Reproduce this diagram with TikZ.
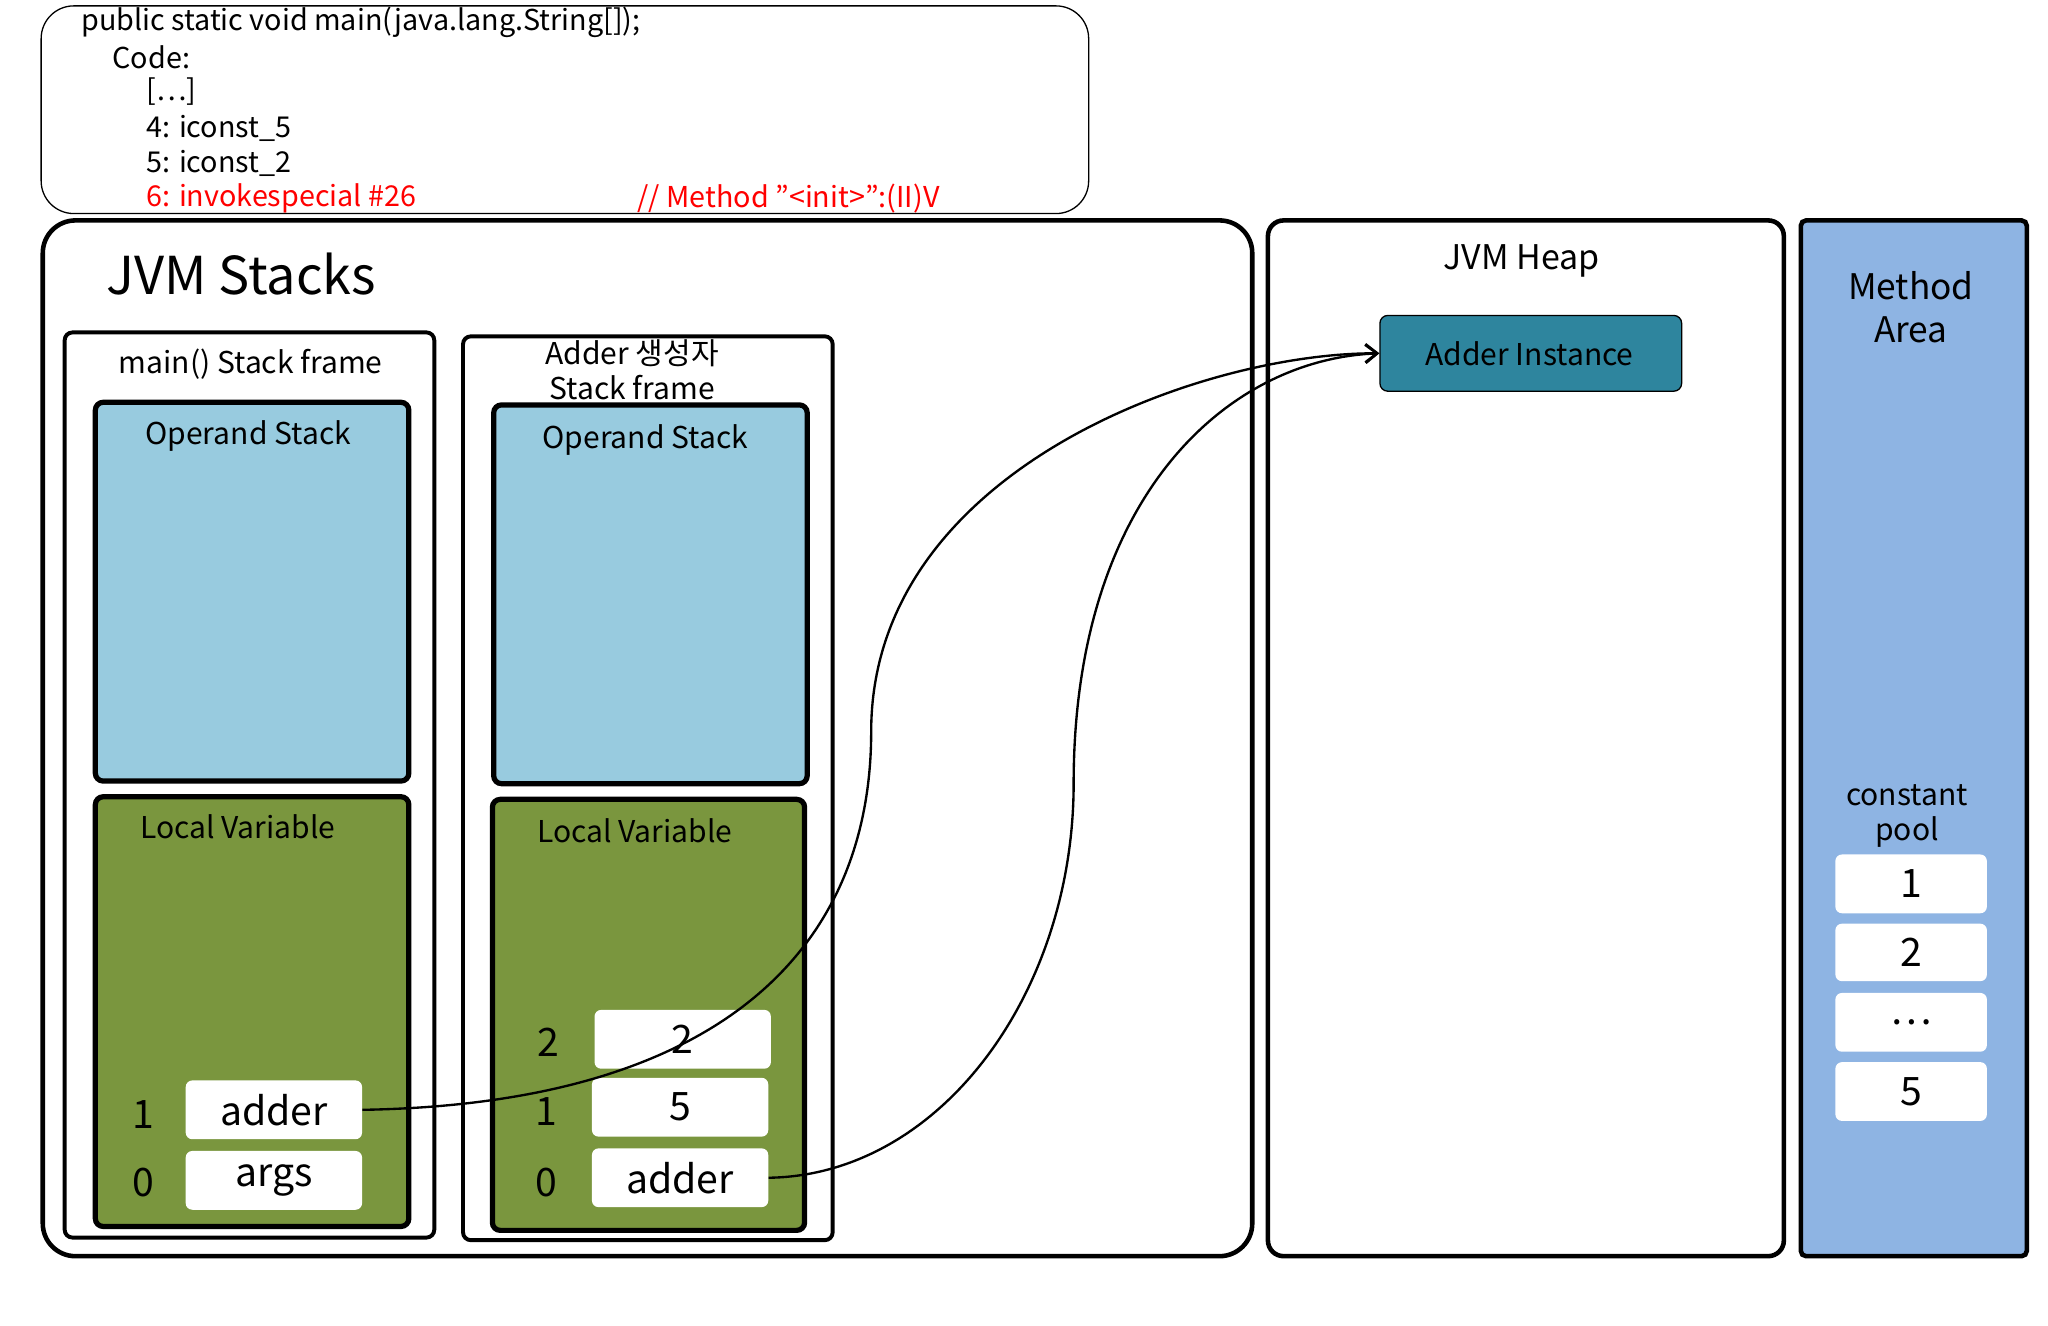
\documentclass[tikz,border=0pt]{standalone}
\usepackage{fontspec}
\setmainfont{Noto Sans CJK KR}
\usetikzlibrary{arrows.meta}
\begin{document}
\begin{tikzpicture}[x=1pt,y=-1pt,
  frame/.style={draw,line width=3pt,rounded corners=6pt},
  big/.style={draw,line width=3.5pt,rounded corners=25pt},
  cell/.style={fill=white,rounded corners=5pt},
  lbl/.style={font=\fontsize{23}{27}\selectfont},
  val/.style={font=\fontsize{30}{34}\selectfont},
  conn/.style={line width=1.8pt,-{Straight Barb[length=9pt,width=14pt,line width=2pt]}}]
\useasboundingbox (0,0) rectangle (1568,1015);
% code box
\node[draw,line width=1pt,rounded corners=25pt,minimum width=802pt,minimum height=159pt,anchor=north west] (code) at (31,4) {};
\begin{scope}[every node/.style={anchor=west,font=\fontsize{22}{26}\selectfont,inner sep=0pt}]
\node (c1) at (62,17) {public static void main(java.lang.String[]);};
\node (c2) at (86,44) {Code:};
\node (c3) at (112,70) {[…]};
\node (c4) at (112,98) {4: iconst\_5};
\node (c5) at (112,125) {5: iconst\_2};
\node[red] (c6) at (112,152) {6: invokespecial \#26};
\node[red] (c7) at (488,152) {// Method \char"22<init>\char"22:(II)V};
\end{scope}
% JVM stacks
\node[big,minimum width=926pt,minimum height=793pt,anchor=north west] (stacks) at (31,167) {};
\node[anchor=west,font=\fontsize{40}{44}\selectfont] (st) at (78,210) {JVM Stacks};
% main frame
\node[frame,minimum width=283pt,minimum height=693pt,anchor=north west] (mf) at (48,253) {};
\node[lbl] (mft) at (192,279) {main() Stack frame};
\node[frame,line width=4pt,fill={rgb,255:red,152;green,203;blue,223},minimum width=240pt,minimum height=290pt,anchor=north west] (mos) at (71,306) {};
\node[lbl] (most) at (190,334) {Operand Stack};
\node[frame,line width=4pt,fill={rgb,255:red,122;green,150;blue,62},minimum width=240pt,minimum height=329pt,anchor=north west] (mlv) at (71,608) {};
\node[lbl] (mlvt) at (182,633) {Local Variable};
\node[cell,minimum width=135pt,minimum height=45pt,anchor=north west,val] (madder) at (142,827) {adder};
\node[cell,minimum width=135pt,minimum height=45pt,anchor=north west,val] (margs) at (142,881) {args};
\node[val] (mi1) at (110,853) {1};
\node[val] (mi0) at (110,905) {0};
% adder frame
\node[frame,minimum width=283pt,minimum height=692pt,anchor=north west] (af) at (353,256) {};
\node[lbl,align=center,font=\fontsize{23}{27}\selectfont] (aft) at (484,283) {Adder 생성자\\Stack frame};
\node[frame,line width=4pt,fill={rgb,255:red,152;green,203;blue,223},minimum width=240pt,minimum height=290pt,anchor=north west] (aos) at (376,308) {};
\node[lbl] (aost) at (494,337) {Operand Stack};
\node[frame,line width=4pt,fill={rgb,255:red,122;green,150;blue,62},minimum width=239pt,minimum height=330pt,anchor=north west] (alv) at (375,610) {};
\node[lbl] (alvt) at (486,636) {Local Variable};
\node[cell,minimum width=135pt,minimum height=45pt,anchor=north west,val] (a2) at (455,773) {2};
\node[cell,minimum width=135pt,minimum height=45pt,anchor=north west,val] (a5) at (453,825) {5};
\node[cell,minimum width=135pt,minimum height=45pt,anchor=north west,val] (aadder) at (453,879) {adder};
\node[val] (ai2) at (420,798) {2};
\node[val] (ai1) at (418,851) {1};
\node[val] (ai0) at (418,905) {0};
% heap
\node[big,rounded corners=12pt,minimum width=395pt,minimum height=793pt,anchor=north west] (heap) at (969,167) {};
\node[lbl,font=\fontsize{26}{30}\selectfont] (heapt) at (1165,200) {JVM Heap};
\node[draw,line width=1pt,rounded corners=6pt,fill={rgb,255:red,46;green,133;blue,158},minimum width=231pt,minimum height=58pt,anchor=north west] (inst) at (1056,241) {};
\node[lbl] (instt) at (1171,271) {Adder Instance};
% method area
\node[draw,line width=3.5pt,rounded corners=4pt,fill={rgb,255:red,142;green,180;blue,227},minimum width=173pt,minimum height=793pt,anchor=north west] (ma) at (1377,167) {};
\node[align=center,font=\fontsize{27}{33}\selectfont] (mat) at (1463,235) {Method\\Area};
\node[align=center,font=\fontsize{23}{27}\selectfont] (cp) at (1460,625) {constant\\pool};
\node[cell,minimum width=116pt,minimum height=45pt,anchor=north west,val] (p1) at (1405,654) {1};
\node[cell,minimum width=116pt,minimum height=44pt,anchor=north west,val] (p2) at (1405,707) {2};
\node[cell,minimum width=116pt,minimum height=45pt,anchor=north west,val] (p3) at (1405,760) {…};
\node[cell,minimum width=116pt,minimum height=45pt,anchor=north west,val] (p5) at (1405,813) {5};
% connectors
\draw[conn] (madder.east) .. controls (560,845) and (667,720) .. (667,560) .. controls (667,360) and (920,270) .. (inst.west);
\draw[conn] (aadder.east) .. controls (720,900) and (822,760) .. (822,600) .. controls (822,380) and (940,275) .. (inst.west);
\end{tikzpicture}
\end{document}
